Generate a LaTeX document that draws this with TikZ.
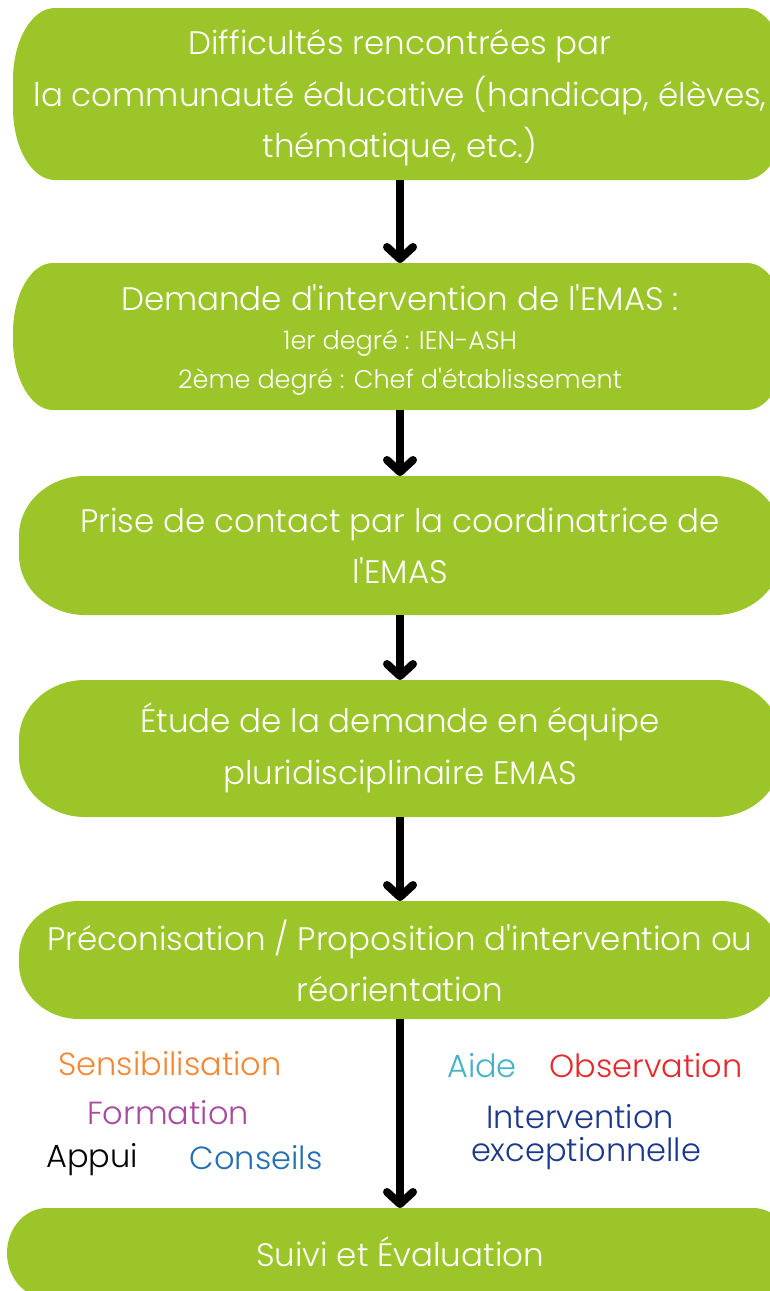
\documentclass[tikz,border=0pt]{standalone}
\usepackage{fontspec}
\setmainfont{Poppins Light}[Ligatures=TeXOff]
\usetikzlibrary{arrows.meta,calc}
\definecolor{pillgreen}{RGB}{156,197,41}
\definecolor{csens}{RGB}{245,135,52}
\definecolor{cform}{RGB}{168,75,160}
\definecolor{ccons}{RGB}{36,110,180}
\definecolor{caide}{RGB}{69,178,197}
\definecolor{cobs}{RGB}{232,40,45}
\definecolor{cinter}{RGB}{27,56,140}
\newcommand\pillbg[3]{%
 \fill[pillgreen] ($(#1.north west)+(#2,0)$) -- ($(#1.north east)+(-#2,0)$)
   arc[start angle=90,end angle=0,x radius=#2,y radius=#3]
   -- ($(#1.south east)+(0,#3)$)
   arc[start angle=0,end angle=-90,x radius=#2,y radius=#3]
   -- ($(#1.south west)+(#2,0)$)
   arc[start angle=270,end angle=180,x radius=#2,y radius=#3]
   -- ($(#1.north west)+(0,-#3)$)
   arc[start angle=180,end angle=90,x radius=#2,y radius=#3] -- cycle;}
\begin{document}
\begin{tikzpicture}[x=1pt,y=1pt,
  pill/.style={inner sep=0pt,outer sep=0pt,text=white,align=center,
    font=\fontsize{32.5}{51.5}\selectfont},
  small/.style={font=\fontsize{25.5}{39}\selectfont},
  word/.style={inner sep=0pt,font=\fontsize{32}{38}\selectfont},
  arr/.style={line width=8pt,-{Straight Barb[length=12pt,width=26pt,round]}}]
\path[use as bounding box,clip] (0,0) rectangle (770,-1291);
% boxes (nodes)
\path (400,-94) node[pill,minimum width=774pt,minimum height=172pt] (b1) {};
\path (400,-336.5) node[pill,minimum width=774pt,minimum height=147pt] (b2) {};
\path (400,-545.5) node[pill,minimum width=762pt,minimum height=139pt] (b3) {};
\path (400,-748.5) node[pill,minimum width=762pt,minimum height=137pt] (b4) {};
\path (400,-960) node[pill,minimum width=762pt,minimum height=118pt] (b5) {};
\path (400,-1253) node[pill,minimum width=786pt,minimum height=90pt] (b6) {};
\pillbg{b1}{42}{72}
\pillbg{b2}{40}{70}
\pillbg{b3}{66}{60}
\pillbg{b4}{66}{60}
\pillbg{b5}{60}{55}
\pillbg{b6}{40}{45}
% texts
\node[pill] (t1) at (400,-98) {Difficultés rencontrées par\\la communauté éducative (handicap, élèves,\\thématique, etc.)};
\node[pill] (t2) at (400,-298) {Demande d'intervention de l'EMAS :};
\node[pill,small] (t2b) at (400,-363) {1er degré : IEN-ASH\\2ème degré : Chef d'établissement};
\node[pill] (t3) at (400,-546) {Prise de contact par la coordinatrice de\\l'EMAS};
\node[pill] (t4) at (400,-748) {Étude de la demande en équipe\\pluridisciplinaire EMAS};
\node[pill] (t5) at (400,-961) {Préconisation / Proposition d'intervention ou\\réorientation};
\node[pill] (t6) at (400,-1252) {Suivi et Évaluation};
% arrows
\draw[arr] (b1.south) -- (b2.north);
\draw[arr] (b2.south) -- (b3.north);
\draw[arr] (b3.south) -- (b4.north);
\draw[arr] (b4.south) -- (b5.north);
\draw[arr] (b5.south) -- (b6.north);
% coloured words
\node[word,text=csens] (w1) at (170,-1064) {Sensibilisation};
\node[word,text=cform] (w2) at (168,-1113) {Formation};
\node[word,text=black] (w3) at (92,-1160) {Appui};
\node[word,text=ccons] (w4) at (256,-1158) {Conseils};
\node[word,text=caide] (w5) at (482,-1066) {Aide};
\node[word,text=cobs] (w6) at (646,-1066) {Observation};
\node[word,text=cinter] (w7) at (580,-1117) {Intervention};
\node[word,text=cinter] (w8) at (586,-1154) {exceptionnelle};
\end{tikzpicture}
\end{document}
